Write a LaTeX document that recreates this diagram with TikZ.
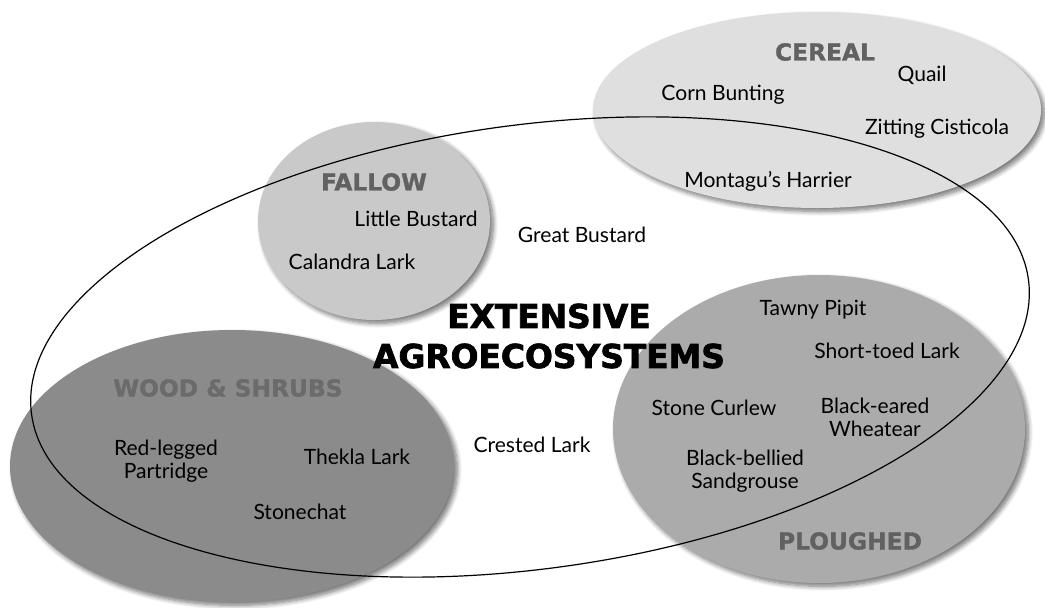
\documentclass[tikz,border=0pt]{standalone}
\usepackage{fontspec}
\setmainfont{Lato}
\newfontfamily\titlefont{DejaVu Sans}[BoldFeatures={FakeBold=1.2}]
\newfontfamily\heavyfont{DejaVu Sans}[BoldFeatures={FakeBold=2.2}]
\usetikzlibrary{shadows.blur}

\definecolor{cerealfill}{gray}{0.875}
\definecolor{fallowfill}{gray}{0.79}
\definecolor{woodfill}{gray}{0.545}
\definecolor{ploughfill}{gray}{0.67}
\definecolor{titlegrey}{gray}{0.38}
\definecolor{woodtitle}{gray}{0.42}

\begin{document}
\begin{tikzpicture}[x=0.75pt,y=-0.75pt,
  zone/.style={blur shadow={shadow xshift=2.5pt,shadow yshift=-2.5pt,
      shadow blur radius=3.5pt,shadow blur steps=8,shadow opacity=55}},
  species/.style={font=\fontsize{15.8}{17.5}\selectfont,align=center,
      text=black,inner sep=0pt},
  zonetitle/.style={font=\titlefont\bfseries\fontsize{17.5}{19}\selectfont,
      text=titlegrey,inner sep=0pt},
  bigtitle/.style={font=\heavyfont\bfseries\fontsize{24.6}{30}\selectfont,
      align=center,text=black,inner sep=0pt}
]
\useasboundingbox (0,0) rectangle (1045,607);

% land-use zones
\fill[cerealfill,zone] (817,110) ellipse [x radius=224, y radius=98];
\fill[fallowfill,zone] (374,221) ellipse [x radius=116, y radius=99];
\fill[woodfill,zone]   (232,466) ellipse [x radius=222, y radius=136];
\fill[ploughfill,zone] (819,429) ellipse [x radius=206, y radius=154];

% extensive agroecosystems outline
\draw[black,line width=0.9pt,rotate around={7.7:(530,347)}]
  (530,347) ellipse [x radius=503, y radius=222];

% zone titles
\node[zonetitle] (cereal)   at (825,52)  {CEREAL};
\node[zonetitle] (fallow)   at (374,182) {FALLOW};
\node[zonetitle,text=woodtitle] (wood) at (228,388) {WOOD \& SHRUBS};
\node[zonetitle] (ploughed) at (850,541) {PLOUGHED};

\node[bigtitle] (ext) at (549,336) {EXTENSIVE\\AGROECOSYSTEMS};

% species
\node[species] (quail)    at (922,75)  {Quail};
\node[species] (corn)     at (723,95)  {Corn Bunting};
\node[species] (zitting)  at (937,129) {Zitting Cisticola};
\node[species] (montagu)  at (768,181) {Montagu’s Harrier};
\node[species] (littleb)  at (416,219) {Little Bustard};
\node[species] (greatb)   at (582,235) {Great Bustard};
\node[species] (calandra) at (352,262) {Calandra Lark};
\node[species] (redleg)   at (166,461) {Red-legged\\Partridge};
\node[species] (thekla)   at (357,457) {Thekla Lark};
\node[species] (stonech)  at (300,512) {Stonechat};
\node[species] (crested)  at (532,445) {Crested Lark};
\node[species] (tawny)    at (813,310) {Tawny Pipit};
\node[species] (shortt)   at (887,351) {Short-toed Lark};
\node[species] (curlew)   at (714,408) {Stone Curlew};
\node[species] (wheatear) at (875,417) {Black-eared\\Wheatear};
\node[species] (sandg)    at (745,471) {Black-bellied\\Sandgrouse};
\end{tikzpicture}
\end{document}
